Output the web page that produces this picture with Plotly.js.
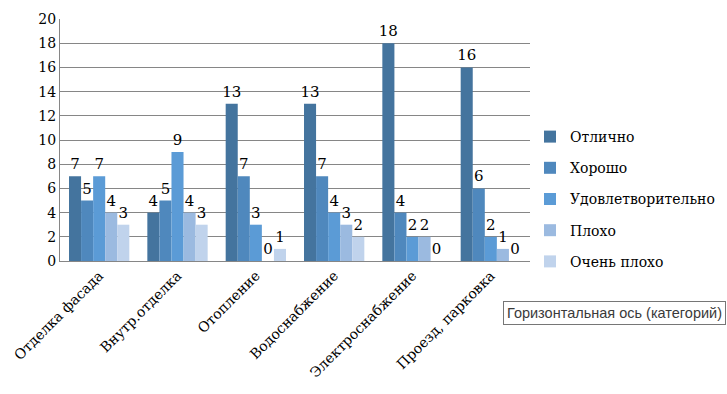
<!DOCTYPE html>
<html>
<head>
<meta charset="utf-8">
<script src="https://cdn.plot.ly/plotly-3.0.1.min.js"></script>
<style>html,body{margin:0;padding:0;background:#fff;}#chart{width:727px;height:394px;}</style>
</head>
<body>
<div id="chart"></div>
<script>
const categories = ["Отделка фасада", "Внутр.отделка", "Отопление", "Водоснабжение", "Электроснабжение", "Проезд, парковка"];
const seriesNames = ["Отлично", "Хорошо", "Удовлетворительно", "Плохо", "Очень плохо"];
const excellent = [7, 4, 13, 13, 18, 16];
const good = [5, 5, 7, 7, 4, 6];
const satisfactory = [7, 9, 3, 4, 2, 2];
const bad = [4, 4, 0, 3, 2, 1];
const veryBad = [3, 3, 1, 2, 0, 0];
const yTicks = [0, 2, 4, 6, 8, 10, 12, 14, 16, 18, 20];

const seriesValues = [excellent, good, satisfactory, bad, veryBad];
const colors = ["#44749E", "#4F88BD", "#5B9BD6", "#9BBAE0", "#C0D3EC"];
const serif = "DejaVu Serif";

const traces = seriesValues.map((vals, i) => ({
  type: "bar",
  name: seriesNames[i],
  x: categories,
  y: vals,
  text: vals.map(String),
  textposition: "outside",
  constraintext: "none",
  cliponaxis: false,
  textfont: {family: serif, size: 15, color: "#000"},
  marker: {color: colors[i], line: {width: 0}},
  legendgroup: "g" + i,
  hoverinfo: "none"
}));

const layout = {
  width: 727, height: 394,
  margin: {l: 60, r: 197, t: 19, b: 133},
  paper_bgcolor: "#fff", plot_bgcolor: "#fff",
  barmode: "group",
  bargap: 0.23,
  bargroupgap: 0,
  font: {family: serif, size: 15, color: "#000"},
  xaxis: {
    tickangle: -45,
    tickfont: {family: serif, size: 14, color: "#000"},
    showline: true, linecolor: "#868686", linewidth: 1,
    ticks: "", showgrid: false, fixedrange: true, automargin: false
  },
  yaxis: {
    range: [0, 20], tickvals: yTicks, ticktext: yTicks.map(String),
    showgrid: true, gridcolor: "#868686", gridwidth: 1,
    showline: true, linecolor: "#868686", linewidth: 1,
    zeroline: false, ticks: "", ticklen: 0,
    tickfont: {family: serif, size: 14, color: "#000"},
    fixedrange: true, automargin: false
  },
  legend: {
    xref: "container", yref: "container",
    x: 530 / 727, xanchor: "left", y: (394 - 199) / 394, yanchor: "middle",
    font: {family: serif, size: 14, color: "#000"},
    tracegroupgap: 10, itemwidth: 30,
    bgcolor: "rgba(0,0,0,0)"
  },
  showlegend: true,
  annotations: [{
    xref: "paper", yref: "paper",
    x: (503 - 60) / 470, y: (261 - 313) / 242,
    xanchor: "left", yanchor: "middle",
    text: "Горизонтальная ось (категорий)",
    showarrow: false,
    font: {family: "Liberation Sans", size: 14.5, color: "#3a3a3a"},
    bgcolor: "#fff", bordercolor: "#767676", borderwidth: 1, borderpad: 3
  }]
};

Plotly.newPlot("chart", traces, layout, {displayModeBar: false, staticPlot: true});
</script>
</body>
</html>
